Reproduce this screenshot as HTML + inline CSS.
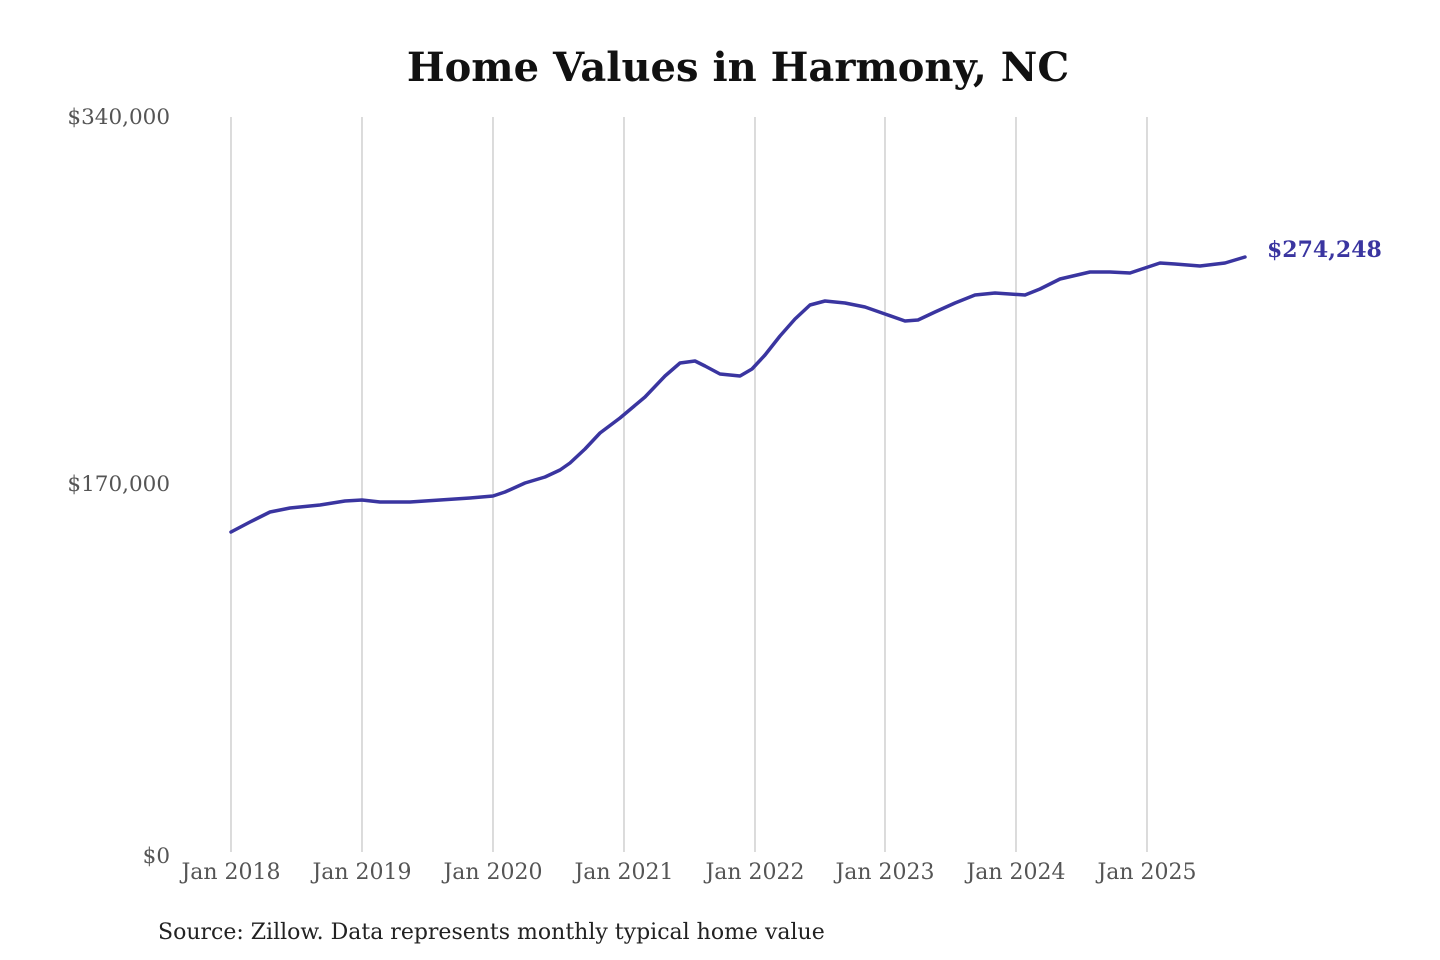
<!DOCTYPE html>
<html><head><meta charset="utf-8"><style>
html,body{margin:0;padding:0;background:#fff;}
</style></head><body>
<svg width="1440" height="960" xmlns="http://www.w3.org/2000/svg" style="display:block">
<rect width="1440" height="960" fill="#fff"/>
<text x="738" y="81" text-anchor="middle" font-family="DejaVu Serif, Liberation Serif, serif" font-weight="bold" font-size="40" fill="#111">Home Values in Harmony, NC</text>
<g stroke="#c8c8c8" stroke-width="1.3">
<line x1="231" y1="117" x2="231" y2="852"/>
<line x1="362" y1="117" x2="362" y2="852"/>
<line x1="493" y1="117" x2="493" y2="852"/>
<line x1="624" y1="117" x2="624" y2="852"/>
<line x1="755" y1="117" x2="755" y2="852"/>
<line x1="885" y1="117" x2="885" y2="852"/>
<line x1="1016" y1="117" x2="1016" y2="852"/>
<line x1="1147" y1="117" x2="1147" y2="852"/>
</g>
<g font-family="DejaVu Serif, Liberation Serif, serif" font-size="21.5" fill="#555">
<text x="170" y="124" text-anchor="end">$340,000</text>
<text x="170" y="491" text-anchor="end">$170,000</text>
<text x="170" y="863" text-anchor="end">$0</text>
</g>
<g font-family="DejaVu Serif, Liberation Serif, serif" font-size="22" fill="#555" text-anchor="middle">
<text x="231" y="879">Jan 2018</text>
<text x="362" y="879">Jan 2019</text>
<text x="493" y="879">Jan 2020</text>
<text x="624" y="879">Jan 2021</text>
<text x="755" y="879">Jan 2022</text>
<text x="885" y="879">Jan 2023</text>
<text x="1016" y="879">Jan 2024</text>
<text x="1147" y="879">Jan 2025</text>
</g>
<polyline fill="none" stroke="#3a35a0" stroke-width="3.5" stroke-linejoin="round" stroke-linecap="round"
points="231,532 250,522 270,512 290,508 320,505 345,501 362,500 380,502 410,502 440,500 470,498 493,496 505,492 525,483 545,477 560,470 570,463 585,449 600,433 620,418 645,397 665,376 680,363 695,361 705,366 720,374 740,376 752,369 765,355 780,336 795,319 810,305 825,301 845,303 865,307 885,314 905,321 918,320 935,312 955,303 975,295 995,293 1025,295 1040,289 1060,279 1090,272 1110,272 1130,273 1145,268 1160,263 1175,264 1200,266 1225,263 1245,257"/>
<text x="1267" y="257" font-family="DejaVu Serif, Liberation Serif, serif" font-weight="bold" font-size="22" fill="#3a35a0">$274,248</text>
<text x="158" y="939" font-family="DejaVu Serif, Liberation Serif, serif" font-size="22" fill="#222">Source: Zillow. Data represents monthly typical home value</text>
</svg>
</body></html>
